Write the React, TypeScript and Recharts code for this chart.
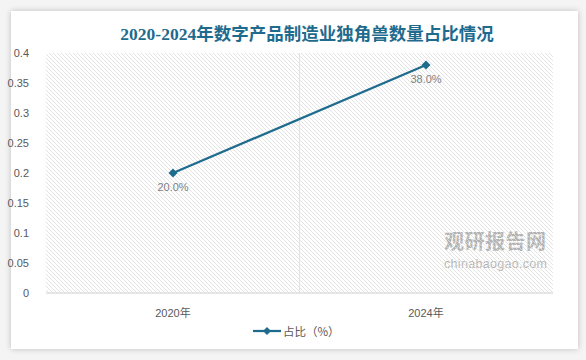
import { LineChart, Line, XAxis, YAxis, CartesianGrid, LabelList } from "recharts";

const years = ["2020年", "2024年"];
const shares = [0.2, 0.38];
const yTicks = [0, 0.05, 0.1, 0.15, 0.2, 0.25, 0.3, 0.35, 0.4];

const data = years.map((year, i) => ({ year, share: shares[i] }));

const LINE = "#1f6b8e";
const FONT = "'Liberation Sans', 'Noto Sans CJK SC', sans-serif";

function Diamond({ cx, cy }: { cx?: number; cy?: number }) {
  if (cx == null || cy == null) return null;
  const r = 4.5;
  return <polygon points={`${cx},${cy - r} ${cx + r},${cy} ${cx},${cy + r} ${cx - r},${cy}`} fill={LINE} />;
}

export default function App() {
  return (
    <div style={{ position: "absolute", left: 0, top: 0, width: 586, height: 360, background: "#f4f4f4", fontFamily: FONT }}>
      {/* hatch pattern used as plot background */}
      <svg width={0} height={0} style={{ position: "absolute" }}>
        <defs>
          <pattern id="hatch" patternUnits="userSpaceOnUse" width={4} height={4}>
            <path d="M-1,-1 L5,5 M3,-1 L5,1 M-1,3 L1,5" stroke="#dcdcdc" strokeWidth={0.8} />
          </pattern>
        </defs>
      </svg>

      <div
        style={{
          position: "absolute",
          left: 11,
          top: 11,
          width: 567,
          height: 338,
          background: "#fff",
          boxShadow: "0 0 6px rgba(0,0,0,0.22)",
        }}
      />

      <div
        style={{
          position: "absolute",
          left: 0,
          width: 614,
          top: 20,
          textAlign: "center",
          fontSize: 17.5,
          fontWeight: "bold",
          color: "#1f6b8e",
          fontFamily: "'Liberation Serif', 'Noto Sans CJK SC', serif",
          whiteSpace: "nowrap",
        }}
      >
        2020-2024年数字产品制造业独角兽数量占比情况
      </div>

      {/* watermark */}
      <div style={{ position: "absolute", left: 444, top: 230, color: "#9a9a9a", opacity: 0.75 }}>
        <div style={{ fontSize: 20, lineHeight: "22px", fontWeight: "bold", letterSpacing: 0.5, fontFamily: "'Noto Sans CJK SC', sans-serif" }}>观研报告网</div>
        <div style={{ fontSize: 12.5, lineHeight: "14px", marginTop: 5, letterSpacing: 0.3 }}>chinabaogao.com</div>
      </div>

      <div style={{ position: "absolute", left: 0, top: 0 }}>
        <LineChart width={586} height={360} data={data} margin={{ top: 53, right: 33, bottom: 37, left: 6 }}>
          <CartesianGrid
            horizontal={false}
            fill="url(#hatch)"
            stroke="#e3e3e3"
            verticalCoordinatesGenerator={({ offset }: any) => [offset.left + offset.width / 2]}
          />
          <XAxis
            dataKey="year"
            padding={{ left: 127, right: 127 }}
            tickLine={false}
            axisLine={{ stroke: "#d0d0d0" }}
            tick={{ fontSize: 11, fill: "#595959" }}
            tickMargin={10}
            height={30}
          />
          <YAxis
            width={40}
            domain={[0, 0.4]}
            ticks={yTicks}
            interval={0}
            tickLine={false}
            axisLine={false}
            tick={{ fontSize: 11, fill: "#595959" }}
            tickMargin={11}
          />
          <Line
            type="linear"
            dataKey="share"
            stroke={LINE}
            strokeWidth={2.25}
            dot={<Diamond />}
            activeDot={false}
            isAnimationActive={false}
          >
            <LabelList
              dataKey="share"
              position="bottom"
              offset={10}
              fill="#7f7f7f"
              fontSize={11}
              formatter={(v: any) => `${(Number(v) * 100).toFixed(1)}%`}
            />
          </Line>
        </LineChart>
      </div>

      {/* legend */}
      <div style={{ position: "absolute", left: 253, top: 323, display: "flex", alignItems: "center", fontSize: 11.5, color: "#595959" }}>
        <svg width={28} height={12}>
          <line x1={0} y1={6} x2={28} y2={6} stroke={LINE} strokeWidth={2.25} />
          <polygon points="14,2 18,6 14,10 10,6" fill={LINE} />
        </svg>
        <span style={{ marginLeft: 2, fontFamily: "'Noto Sans CJK SC', sans-serif" }}>占比（%）</span>
      </div>
    </div>
  );
}
